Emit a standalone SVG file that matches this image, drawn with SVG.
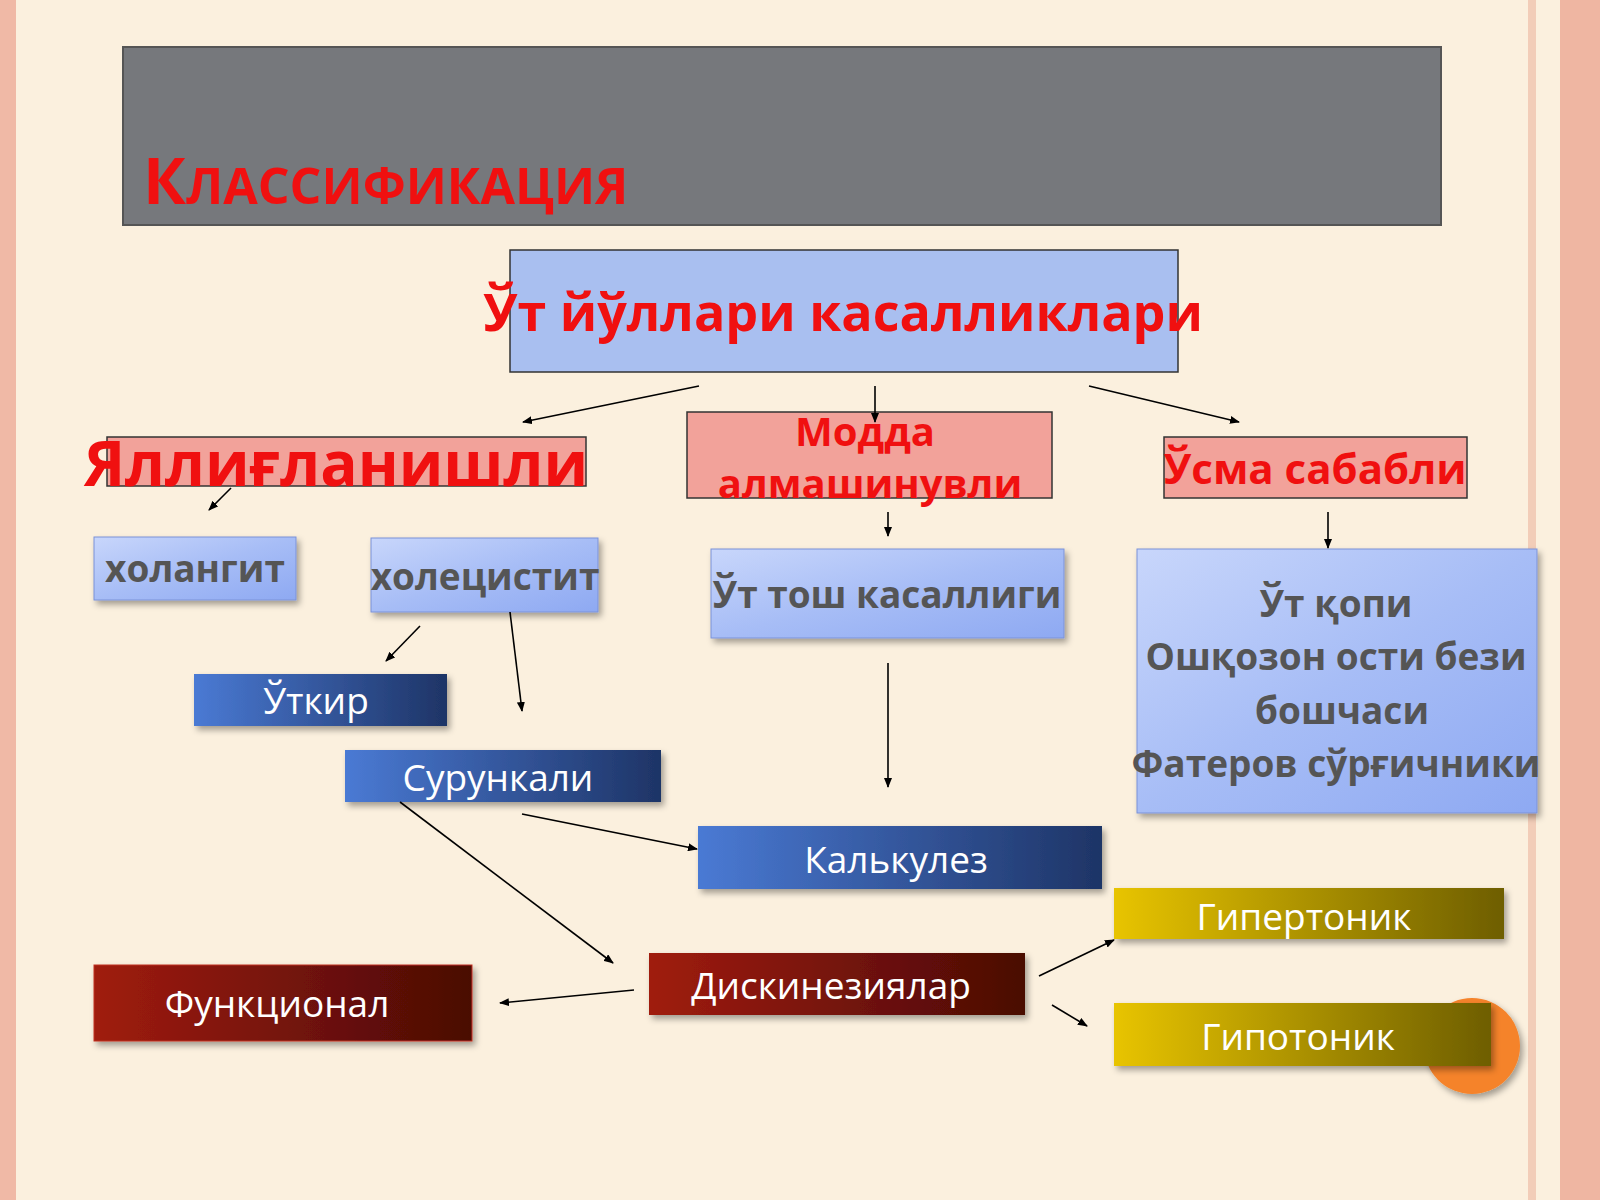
<svg xmlns="http://www.w3.org/2000/svg" width="1600" height="1200" viewBox="0 0 1600 1200">
<defs>
<linearGradient id="gBlue" x1="0" y1="0" x2="1" y2="0"><stop offset="0" stop-color="#4a7ad4"/><stop offset="1" stop-color="#1e3466"/></linearGradient>
<linearGradient id="gLight" x1="0" y1="0" x2="1" y2="1"><stop offset="0" stop-color="#c8d6fb"/><stop offset="0.5" stop-color="#a7bdf6"/><stop offset="1" stop-color="#8ea9f2"/></linearGradient>
<linearGradient id="gRed" x1="0" y1="0" x2="1" y2="0"><stop offset="0" stop-color="#a01c10"/><stop offset="1" stop-color="#4a0a04"/></linearGradient>
<linearGradient id="gGold" x1="0" y1="0" x2="1" y2="0"><stop offset="0" stop-color="#e8c400"/><stop offset="1" stop-color="#6e5e00"/></linearGradient>
<filter id="sh" x="-10%" y="-10%" width="125%" height="130%"><feDropShadow dx="3" dy="4" stdDeviation="3" flood-color="#000" flood-opacity="0.35"/></filter>
<marker id="ah" markerWidth="10" markerHeight="8" refX="9" refY="4" orient="auto" markerUnits="userSpaceOnUse"><path d="M0,0 L10,4 L0,8 z" fill="#000"/></marker>
</defs>
<style>
text{font-family:"Open Sans","DejaVu Sans",sans-serif;text-anchor:middle}
.red{fill:#f01010;font-weight:bold}
.gray{fill:#555;font-weight:bold;font-size:37px}
.wh{fill:#fff;font-size:37px}
.c line{stroke:#000;stroke-width:1.6;marker-end:url(#ah)}
</style>
<rect width="1600" height="1200" fill="#fbf0de"/>
<rect x="0" y="0" width="16" height="1200" fill="#f0b9a6"/>
<rect x="1528" y="0" width="8" height="1200" fill="#f2cdb8"/>
<rect x="1560" y="0" width="40" height="1200" fill="#efb6a2"/>
<g id="title"><rect x="123" y="47" width="1318" height="178" fill="#76787c" stroke="#555" stroke-width="2"/>
<text x="143" y="204" style="text-anchor:start;font-weight:bold" fill="#f01010"><tspan font-size="64">К</tspan><tspan font-size="50">ЛАССИФИКАЦИЯ</tspan></text></g>
<g id="main"><rect x="510" y="250" width="668" height="122" fill="#a9bff0" stroke="#333" stroke-width="1.5"/><text x="843" y="331" class="red" font-size="52">Ўт йўллари касалликлари</text></g>
<g id="yal"><rect x="107" y="437" width="479" height="49" fill="#f2a29a" stroke="#333" stroke-width="1.5"/><text x="336" y="486" class="red" font-size="62">Яллиғланишли</text></g>
<g id="modda"><rect x="687" y="412" width="365" height="86" fill="#f2a29a" stroke="#333" stroke-width="1.5"/><text x="865" y="446" class="red" font-size="40">Модда</text><text x="870" y="498" class="red" font-size="40">алмашинувли</text></g>
<g id="usma"><rect x="1164" y="437" width="303" height="61" fill="#f2a29a" stroke="#333" stroke-width="1.5"/><text x="1315" y="484" class="red" font-size="42">Ўсма сабабли</text></g>
<g id="xolangit"><rect x="94" y="537" width="202" height="63" fill="url(#gLight)" stroke="#7a92d8" filter="url(#sh)"/><text x="195" y="582" class="gray">холангит</text></g>
<g id="xolecistit"><rect x="371" y="538" width="227" height="74" fill="url(#gLight)" stroke="#7a92d8" filter="url(#sh)"/><text x="485" y="590" class="gray">холецистит</text></g>
<g id="tosh"><rect x="711" y="549" width="353" height="89" fill="url(#gLight)" stroke="#7a92d8" filter="url(#sh)"/><text x="887" y="608" class="gray" font-size="38">Ўт  тош касаллиги</text></g>
<g id="right"><rect x="1137" y="549" width="400" height="264" fill="url(#gLight)" stroke="#7a92d8" filter="url(#sh)"/>
<text class="gray" font-size="41"><tspan x="1336" y="617">Ўт қопи</tspan><tspan x="1336" y="670">Ошқозон ости бези</tspan><tspan x="1342" y="724">бошчаси</tspan><tspan x="1336" y="777">Фатеров сўрғичники</tspan></text></g>
<g id="utkir"><rect x="194" y="674" width="253" height="52" fill="url(#gBlue)" filter="url(#sh)"/><text x="316" y="714" class="wh">Ўткир</text></g>
<g id="surunkali"><rect x="345" y="750" width="316" height="52" fill="url(#gBlue)" filter="url(#sh)"/><text x="498" y="791" class="wh">Сурункали</text></g>
<g id="kalkulez"><rect x="698" y="826" width="404" height="63" fill="url(#gBlue)" filter="url(#sh)"/><text x="896" y="873" class="wh">Калькулез</text></g>
<g id="circle"><circle cx="1472" cy="1046" r="48" fill="#f5832a" filter="url(#sh)"/></g>
<g id="giper"><rect x="1114" y="888" width="390" height="51" fill="url(#gGold)" filter="url(#sh)"/><text x="1304" y="930" class="wh">Гипертоник</text></g>
<g id="gipo"><rect x="1114" y="1003" width="377" height="63" fill="url(#gGold)" filter="url(#sh)"/><text x="1298" y="1050" class="wh">Гипотоник</text></g>
<g id="disk"><rect x="649" y="953" width="376" height="62" fill="url(#gRed)" filter="url(#sh)"/><text x="831" y="999" class="wh">Дискинезиялар</text></g>
<g id="funk"><rect x="94" y="965" width="378" height="76" fill="url(#gRed)" stroke="#c03020" filter="url(#sh)"/><text x="277" y="1017" class="wh">Функционал</text></g>
<g id="connectors" class="c">
<line x1="699" y1="386" x2="523" y2="422"/>
<line x1="875" y1="386" x2="875" y2="422"/>
<line x1="1089" y1="386" x2="1239" y2="422"/>
<line x1="231" y1="488" x2="209" y2="510"/>
<line x1="888" y1="512" x2="888" y2="536"/>
<line x1="1328" y1="512" x2="1328" y2="548"/>
<line x1="420" y1="626" x2="386" y2="661"/>
<line x1="510" y1="612" x2="522" y2="711"/>
<line x1="888" y1="663" x2="888" y2="787"/>
<line x1="522" y1="814" x2="697" y2="849"/>
<line x1="400" y1="802" x2="613" y2="963"/>
<line x1="634" y1="990" x2="500" y2="1003"/>
<line x1="1039" y1="976" x2="1114" y2="940"/>
<line x1="1052" y1="1005" x2="1087" y2="1026"/>
</g>
</svg>
